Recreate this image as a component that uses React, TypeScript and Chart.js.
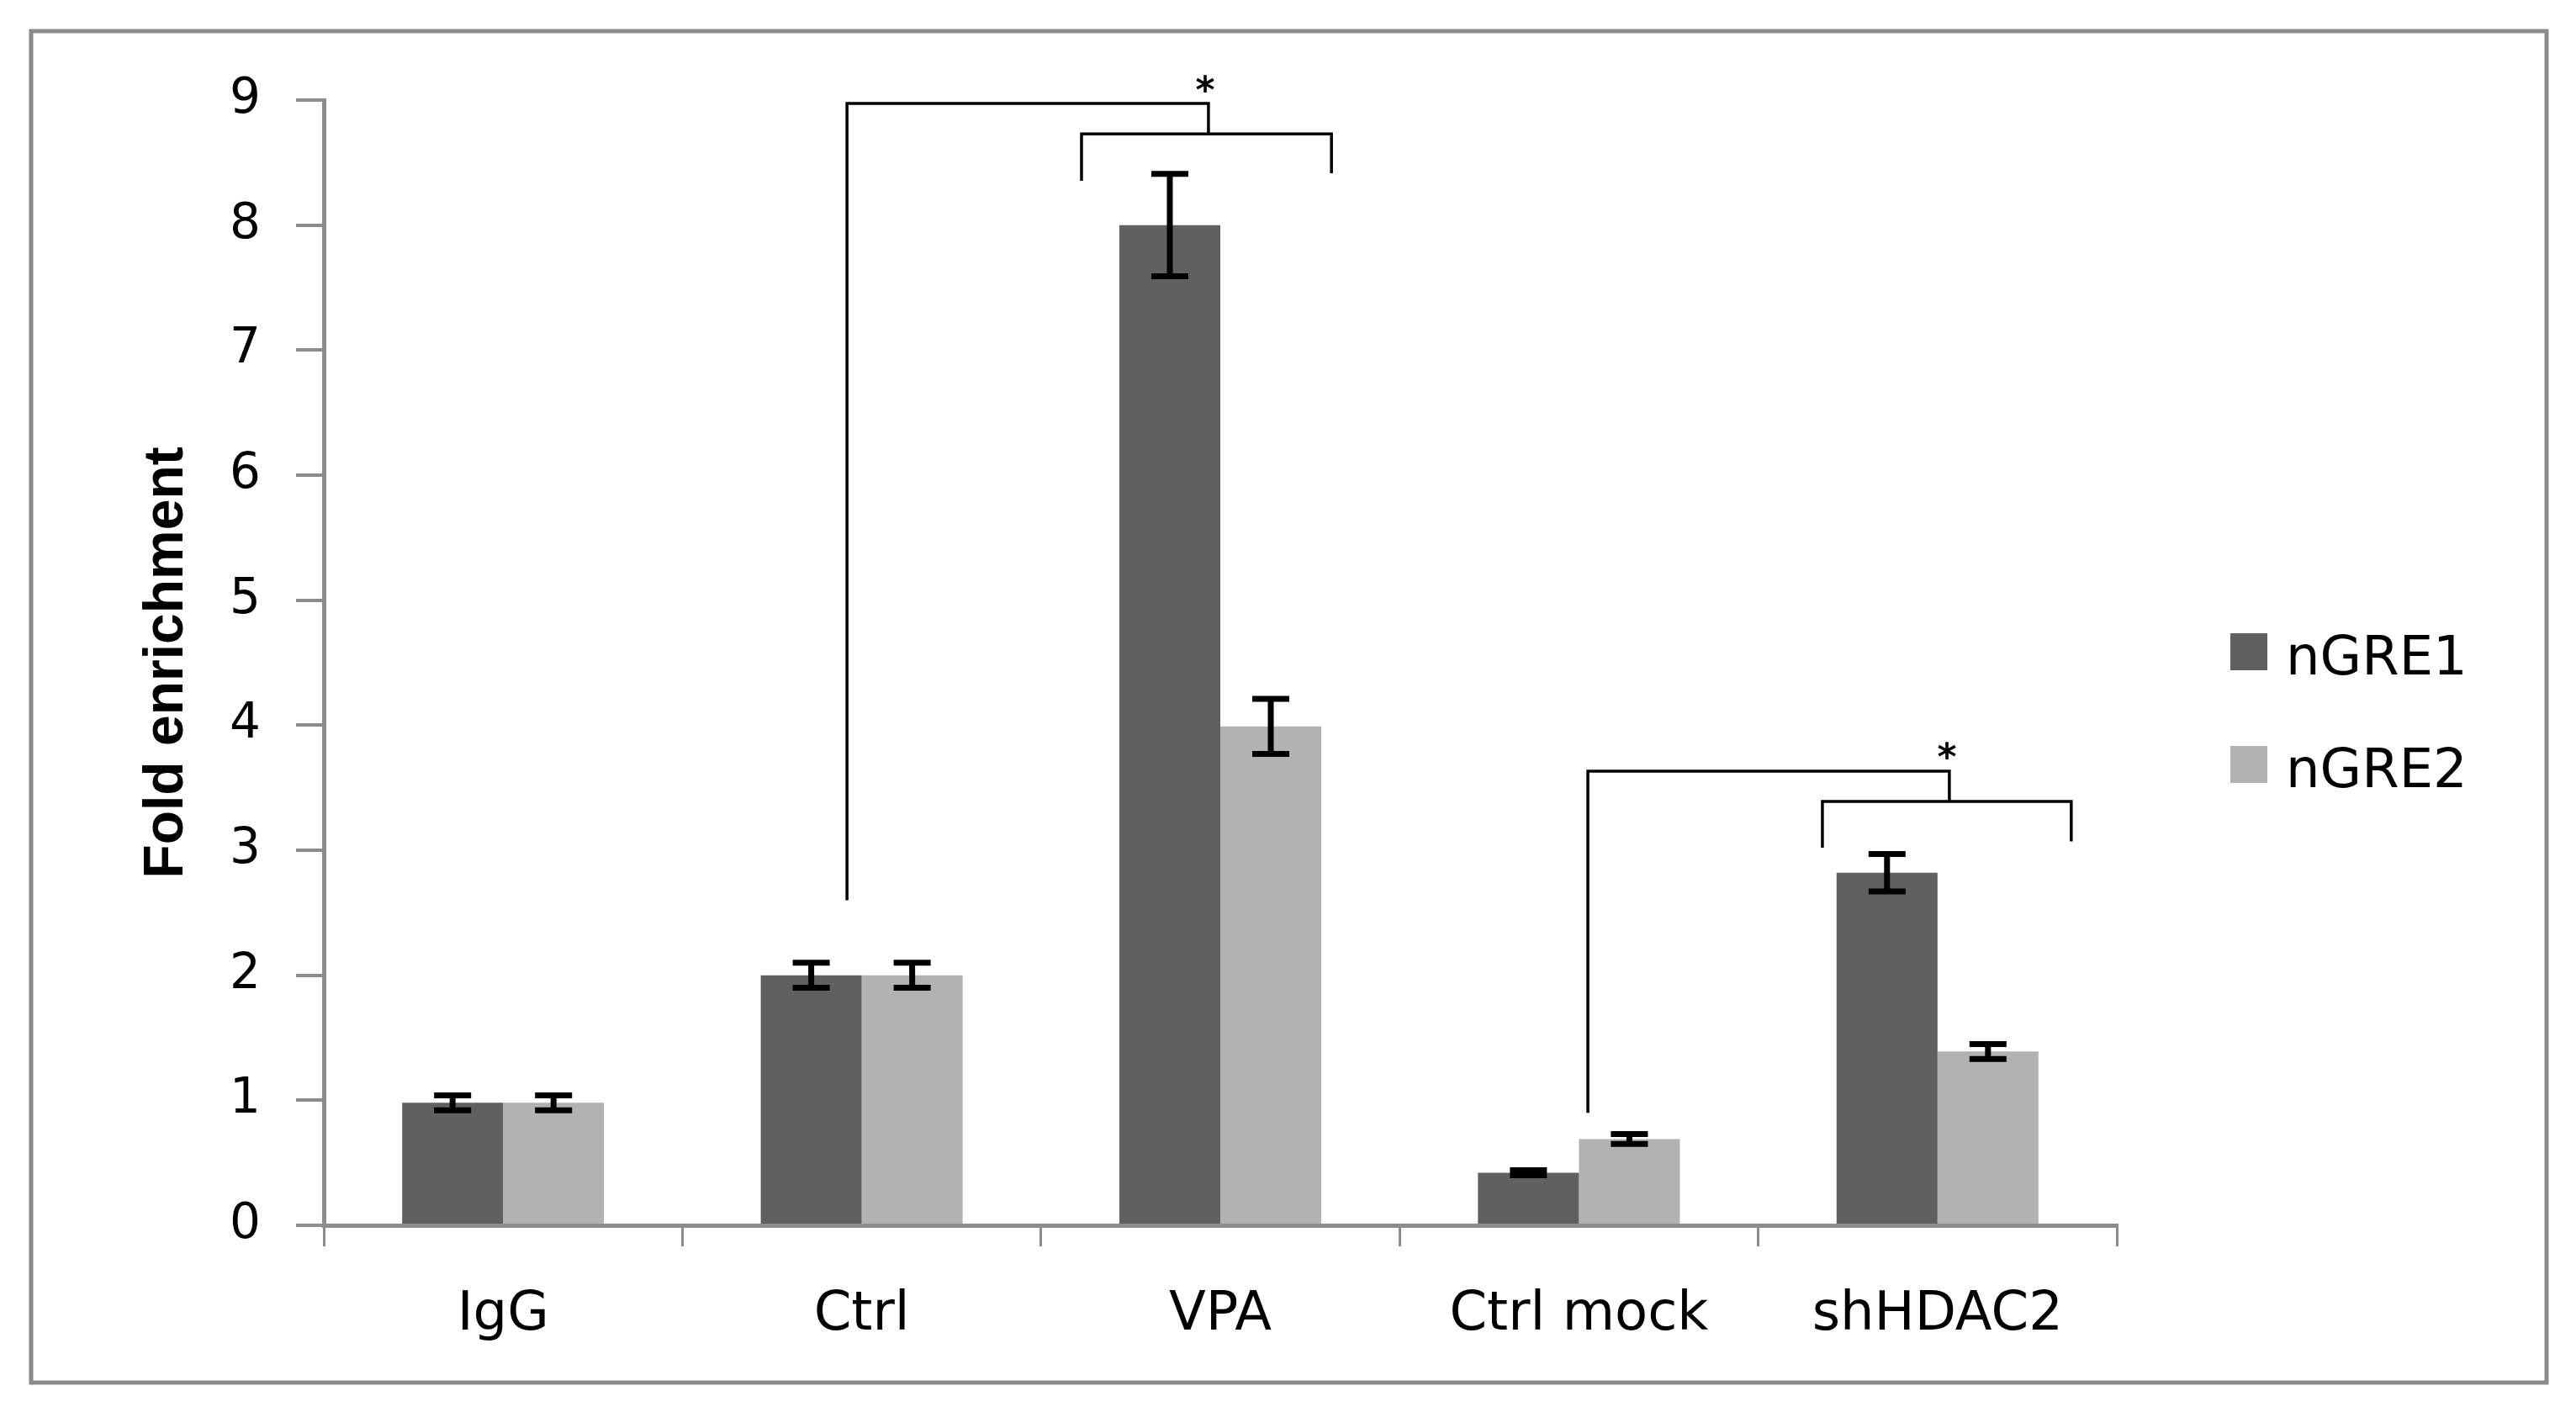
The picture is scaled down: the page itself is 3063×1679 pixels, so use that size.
import React, { useEffect, useRef } from 'react';
import { Chart, registerables } from 'chart.js';

Chart.register(...registerables);

// ---- Data ----
const categories = ['IgG', 'Ctrl', 'VPA', 'Ctrl mock', 'shHDAC2'];
const seriesNames = ['nGRE1', 'nGRE2'];
const seriesColors = ['#606060', '#b2b2b2'];
const nGRE1 = [0.98, 2.0, 8.0, 0.42, 2.82];
const nGRE2 = [0.98, 2.0, 3.99, 0.69, 1.39];
const nGRE1Err = [0.06, 0.1, 0.41, 0.02, 0.15];
const nGRE2Err = [0.06, 0.1, 0.22, 0.04, 0.06];
const yMin = 0;
const yMax = 9;
const yStep = 1;
const yTitle = 'Fold enrichment';

// Significance brackets (x in category-index units, y in data units)
const bracketOuterX = [0.959, 3.025];
const bracketOuterBottom = [2.6, 0.9];
const bracketTopY = [8.973, 3.632];
const bracketMidX = [1.967, 4.033];
const bracketInnerY = [8.73, 3.39];
const bracketInnerLeft = [1.613, 3.679];
const bracketInnerRight = [2.31, 4.373];
const bracketInnerLeftBottom = [8.354, 3.02];
const bracketInnerRightBottom = [8.415, 3.07];
const bracketStarX = [1.958, 4.026];
const bracketStarY = [9.107, 3.77];
const bracketLabel = ['*', '*'];

const errorSets = [nGRE1Err, nGRE2Err];

const W = 3063;
const H = 1679;

const backgroundPlugin = {
  id: 'bgFrame',
  beforeDraw(chart: any) {
    const ctx = chart.ctx;
    ctx.save();
    ctx.fillStyle = '#ffffff';
    ctx.fillRect(0, 0, chart.width, chart.height);
    ctx.strokeStyle = '#8a8a8a';
    ctx.lineWidth = 5;
    ctx.strokeRect(37, 37, 2991, 1607);
    ctx.restore();
  },
};

const errorBarPlugin = {
  id: 'errorBars',
  afterDatasetsDraw(chart: any) {
    const ctx = chart.ctx;
    const y = chart.scales.y;
    chart.data.datasets.forEach((ds: any, i: number) => {
      const meta = chart.getDatasetMeta(i);
      const errs = errorSets[i];
      meta.data.forEach((bar: any, j: number) => {
        const v = ds.data[j];
        const e = errs[j];
        const x = bar.x;
        const top = y.getPixelForValue(v + e);
        const bot = y.getPixelForValue(v - e);
        ctx.save();
        ctx.strokeStyle = '#000000';
        ctx.lineWidth = 7;
        ctx.lineCap = 'butt';
        ctx.beginPath();
        ctx.moveTo(x, top);
        ctx.lineTo(x, bot);
        ctx.moveTo(x - 22, top);
        ctx.lineTo(x + 22, top);
        ctx.moveTo(x - 22, bot);
        ctx.lineTo(x + 22, bot);
        ctx.stroke();
        ctx.restore();
      });
    });
  },
};

const bracketPlugin = {
  id: 'brackets',
  afterDraw(chart: any) {
    const ctx = chart.ctx;
    const xs = chart.scales.x;
    const ys = chart.scales.y;
    const px = (v: number) => xs.getPixelForValue(v);
    const py = (v: number) => ys.getPixelForValue(v);
    ctx.save();
    ctx.strokeStyle = '#000000';
    ctx.lineWidth = 3.5;
    ctx.lineCap = 'butt';
    for (let k = 0; k < bracketOuterX.length; k++) {
      ctx.beginPath();
      ctx.moveTo(px(bracketOuterX[k]), py(bracketOuterBottom[k]));
      ctx.lineTo(px(bracketOuterX[k]), py(bracketTopY[k]));
      ctx.lineTo(px(bracketMidX[k]), py(bracketTopY[k]));
      ctx.lineTo(px(bracketMidX[k]), py(bracketInnerY[k]));
      ctx.moveTo(px(bracketInnerLeft[k]), py(bracketInnerLeftBottom[k]));
      ctx.lineTo(px(bracketInnerLeft[k]), py(bracketInnerY[k]));
      ctx.lineTo(px(bracketInnerRight[k]), py(bracketInnerY[k]));
      ctx.lineTo(px(bracketInnerRight[k]), py(bracketInnerRightBottom[k]));
      ctx.stroke();
      ctx.fillStyle = '#000000';
      ctx.font = 'bold 44px "DejaVu Sans"';
      ctx.textAlign = 'center';
      ctx.textBaseline = 'middle';
      ctx.fillText(bracketLabel[k], px(bracketStarX[k]), py(bracketStarY[k]) + 7);
    }
    ctx.restore();
  },
};

const legendPlugin = {
  id: 'customLegend',
  afterDraw(chart: any) {
    const ctx = chart.ctx;
    const { right, top } = chart.chartArea;
    ctx.save();
    chart.data.datasets.forEach((ds: any, i: number) => {
      const cy = top + 656 + i * 134;
      ctx.fillStyle = ds.backgroundColor;
      ctx.fillRect(right + 135, cy - 22, 44, 44);
      ctx.fillStyle = '#000000';
      ctx.font = '64px "DejaVu Sans"';
      ctx.textAlign = 'left';
      ctx.textBaseline = 'middle';
      ctx.fillText(ds.label, right + 201, cy + 10);
    });
    ctx.restore();
  },
};

export default function App() {
  const canvasRef = useRef<HTMLCanvasElement | null>(null);

  useEffect(() => {
    document.body.style.margin = '0';
    document.body.style.overflow = 'hidden';
    const canvas = canvasRef.current;
    if (!canvas) return;
    const chart = new Chart(canvas, {
      type: 'bar',
      data: {
        labels: categories,
        datasets: [
          {
            label: seriesNames[0],
            data: nGRE1,
            backgroundColor: seriesColors[0],
            borderWidth: 0,
            categoryPercentage: 0.563,
            barPercentage: 1,
          },
          {
            label: seriesNames[1],
            data: nGRE2,
            backgroundColor: seriesColors[1],
            borderWidth: 0,
            categoryPercentage: 0.563,
            barPercentage: 1,
          },
        ],
      },
      options: {
        responsive: false,
        animation: false,
        devicePixelRatio: 1,
        layout: {
          padding: { left: 157, top: 119, right: 546, bottom: 72 },
        },
        plugins: {
          legend: { display: false },
          tooltip: { enabled: false },
          title: { display: false },
        },
        scales: {
          x: {
            offset: true,
            grid: {
              offset: true,
              drawOnChartArea: false,
              drawTicks: true,
              tickLength: 25,
              color: '#8c8c8c',
              lineWidth: 3,
            },
            border: { display: true, color: '#8c8c8c', width: 5 },
            ticks: {
              color: '#000000',
              padding: 44,
              font: { family: '"DejaVu Sans"', size: 64 },
              maxRotation: 0,
              autoSkip: false,
            },
            afterFit(scale: any) {
              scale.height = 150;
            },
          },
          y: {
            min: yMin,
            max: yMax,
            grid: {
              drawOnChartArea: false,
              drawTicks: true,
              tickLength: 33,
              color: '#8c8c8c',
              lineWidth: 4,
            },
            border: { display: true, color: '#8c8c8c', width: 5 },
            ticks: {
              stepSize: yStep,
              color: '#000000',
              padding: 42,
              font: { family: '"DejaVu Sans"', size: 58 },
            },
            title: {
              display: true,
              text: yTitle,
              color: '#000000',
              font: { family: '"Liberation Sans"', size: 66, weight: 'bold' },
              padding: { top: 2, bottom: 0 },
            },
            afterFit(scale: any) {
              scale.width = 228;
            },
          },
        },
      },
      plugins: [backgroundPlugin, errorBarPlugin, bracketPlugin, legendPlugin],
    } as any);
    return () => {
      chart.destroy();
    };
  }, []);

  return (
    <div style={{ width: W, height: H, overflow: 'hidden' }}>
      <canvas ref={canvasRef} width={W} height={H} style={{ display: 'block', width: W, height: H }} />
    </div>
  );
}
